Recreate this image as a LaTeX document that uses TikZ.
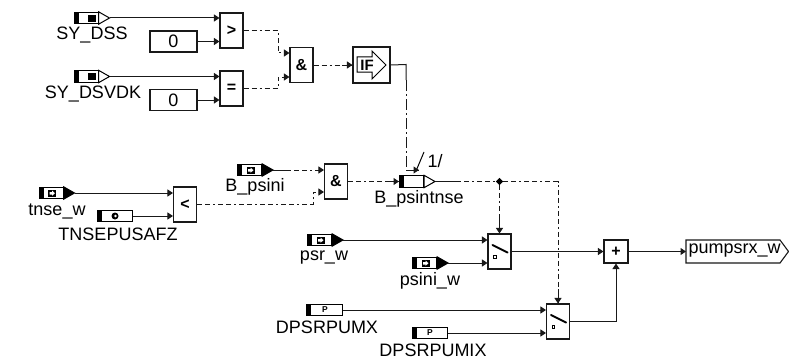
\documentclass[tikz,border=0pt]{standalone}
\usepackage{fontspec}
\setmainfont{Liberation Sans}
\usetikzlibrary{shapes.geometric, arrows.meta, calc}
\tikzset{
	blk/.style    ={rectangle, draw=black!90, line width=1.1pt, minimum width=23pt, minimum height=35pt, inner sep=0pt, font=\fontsize{16}{16}\selectfont\bfseries},
	const/.style  ={rectangle, draw=black!90, line width=1.1pt, minimum width=47pt, minimum height=21pt, inner sep=0pt},
	port/.style   ={rectangle, draw=black, line width=1pt, minimum width=24pt, minimum height=11.5pt, inner sep=0pt},
	param/.style  ={rectangle, draw=black, line width=1pt, minimum width=35.5pt, minimum height=11.5pt, inner sep=0pt},
	lbl/.style    ={inner sep=0pt, text=black},
	sig/.style    ={-{Triangle[length=5.5pt, width=7pt]}, line width=1pt, black!90},
	stub/.style   ={line width=1pt, black!90},
	flag/.style   ={sig, dash pattern=on 5pt off 3pt on 5pt off 3pt on 2pt off 3pt},
	flaglong/.style={sig, dash pattern=on 11pt off 3pt on 2pt off 3pt},
	junct/.style  ={diamond, fill=black, minimum size=7.5pt, inner sep=0pt},
}
% port body with its bar and its tip
\newcommand{\inport}[3]{
	\node[port] (#1) at (#2) {};
	\fill[black] (#1.north west) rectangle ([xshift=5pt]#1.south west);
	\filldraw[draw=black, line width=1pt, fill=#3] (#1.north east) -- ([xshift=11pt]#1.east) coordinate (#1tip) -- (#1.south east) -- cycle;
}
% parameter box with its bar
\newcommand{\parport}[2]{
	\node[param] (#1) at (#2) {};
	\fill[black] (#1.north west) rectangle ([xshift=5pt]#1.south west);
}
% little square with a white arrow
\newcommand{\msgicon}[1]{
	\fill[black] ($(#1.center)+(-3,-3)$) rectangle ($(#1.center)+(5,3.5)$);
	\fill[white] ($(#1.center)+(-1.5,-1)$) -- ($(#1.center)+(1,-1)$) -- ($(#1.center)+(1,-2.5)$) -- ($(#1.center)+(4,0.2)$) -- ($(#1.center)+(1,2.8)$) -- ($(#1.center)+(1,1.5)$) -- ($(#1.center)+(-1.5,1.5)$) -- cycle;
}
\newcommand{\switchicon}[1]{
	\draw[line width=2pt, line cap=round, black] ($(#1.center)+(-7,-6.5)$) -- ($(#1.center)+(8,1)$);
	\draw[line width=1pt, black] ($(#1.center)+(-6,4)$) rectangle ($(#1.center)+(-3.5,6.5)$);
}
\begin{document}
\begin{tikzpicture}[x=1pt, y=-1pt, font=\fontsize{18}{18}\selectfont]
	\useasboundingbox (0,0) rectangle (789,361);
	% upper branch
	\inport{dss}{86,18}{white}
	\fill[black] (88,15) rectangle (96,22);
	\node[lbl] (dsslbl) at (92,35) {SY\_DSS};
	\node[const] (zeroa) at (173.5,41.5) {0};
	\node[blk] (gt) at (231.5,30.5) {>};
	\inport{dsvdk}{86,76.5}{white}
	\fill[black] (88,73) rectangle (96,80);
	\node[lbl] (dsvdklbl) at (93,94) {SY\_DSVDK};
	\node[const] (zerob) at (173.5,100) {0};
	\node[blk] (eq) at (231.5,88.5) {=};
	\node[blk] (anda) at (301.5,65) {\&};
	\node[blk, minimum width=37pt, minimum height=36pt] (ifblk) at (371.5,65) {};
	\draw[line width=1pt, black] (357,57) -- (372,57) -- (372,51) -- (386,65) -- (372,79) -- (372,72) -- (357,72) -- cycle;
	\node[inner sep=0pt, font=\fontsize{15}{15}\selectfont\bfseries] (iftxt) at (367,65) {IF};
	\draw[sig] (dsstip) -- (dsstip -| gt.west);
	\draw[sig] (zeroa.east) -- (zeroa.east -| gt.west);
	\draw[sig] (dsvdktip) -- (dsvdktip -| eq.west);
	\draw[sig] (zerob.east) -- (zerob.east -| eq.west);
	\draw[flag] (gt.east) -- (278,30.5) -- (278,53) -- (278,53 -| anda.west);
	\draw[flag] (eq.east) -- (278,88.5) -- (278,77) -- (278,77 -| anda.west);
	\draw[flag] (anda.east) -- (ifblk.west);
	\draw[stub] ($(ifblk.west)+(-10,0)$) -- (ifblk.west);
	% middle branch
	\inport{tnse}{51,193}{black}
	\msgicon{tnse}
	\node[lbl] (tnselbl) at (57,211) {tnse\_w};
	\parport{tnsepu}{115,216}
	\fill[black] (115,216) circle (3.5);
	\fill[white] (115.5,216) circle (1.4);
	\node[lbl] (tnsepulbl) at (118,234) {TNSEPUSAFZ};
	\node[blk] (lt) at (185,204.5) {<};
	\inport{psini}{249.5,170}{black}
	\msgicon{psini}
	\node[lbl] (psinilbl) at (255,187) {B\_psini};
	\node[blk] (andb) at (336,181.5) {\&};
	\inport{intnse}{411.5,181.5}{white}
	\node[lbl] (intnselbl) at (419,199) {B\_psintnse};
	\node[junct] (split) at (499.5,181.5) {};
	\draw[line width=1pt, black] (416,171) -- (424,152);
	\node[lbl] (onelbl) at (435,161) {1/};
	\draw[sig] (tnsetip) -- (tnsetip -| lt.west);
	\draw[sig] (tnsepu.east) -- (tnsepu.east -| lt.west);
	\draw[flag] (lt.east) -- (313,204.5) -- (313,192) -- (313,192 -| andb.west);
	\draw[flag] (psinitip) -- (psinitip -| andb.west);
	\draw[stub] (psinitip) -- ($(psinitip)+(17,0)$);
	\draw[flag] (andb.east) -- (intnse.west);
	\draw[stub] ($(intnse.west)+(-14,0)$) -- (intnse.west);
	\draw[stub] (ifblk.east) -- (406,64.5) -- (406,80);
	\draw[flaglong] (406,80) -- (406,170) -- (419,170);
	\draw[stub] (406,170) -- (419,170);
	\draw[flag, -] (intnsetip) -- (split);
	\draw[stub] (intnsetip) -- ($(intnsetip)+(21,0)$);
	% lower branch
	\inport{psr}{319.5,240}{black}
	\msgicon{psr}
	\node[lbl] (psrlbl) at (324,258) {psr\_w};
	\inport{psiniw}{424.5,263}{black}
	\msgicon{psiniw}
	\node[lbl] (psiniwlbl) at (430,281) {psini\_w};
	\node[blk] (swa) at (499.5,251.5) {};
	\switchicon{swa}
	\parport{dpmx}{324.5,310}
	\node[inner sep=0pt, font=\fontsize{8.5}{8.5}\selectfont\bfseries] (dpmxp) at (325,310) {P};
	\node[lbl] (dpmxlbl) at (327,327) {DPSRPUMX};
	\parport{dpmix}{430,333}
	\node[inner sep=0pt, font=\fontsize{8.5}{8.5}\selectfont\bfseries] (dpmixp) at (430,333) {P};
	\node[lbl] (dpmixlbl) at (433,350) {DPSRPUMIX};
	\node[blk] (swb) at (558,321.5) {};
	\switchicon{swb}
	\node[blk, minimum height=23pt, minimum width=24pt] (plus) at (616,251.5) {+};
	\draw[line width=1.1pt, black!90] (686,240) -- (780,240) -- (788.5,251.5) -- (780,263) -- (686,263) -- cycle;
	\node[lbl, anchor=west] (pumpsrx) at (688.5,251) {pumpsrx\_w};
	\draw[flag] (split) -- (swa.north);
	\draw[stub] ($(swa.north)+(0,-15)$) -- (swa.north);
	\draw[flag] (split) -| (swb.north);
	\draw[stub] ($(swb.north)+(0,-14)$) -- (swb.north);
	\draw[sig] (psrtip) -- (psrtip -| swa.west);
	\draw[sig] (psiniwtip) -- (psiniwtip -| swa.west);
	\draw[sig] (dpmx.east) -- (dpmx.east -| swb.west);
	\draw[sig] (dpmix.east) -- (dpmix.east -| swb.west);
	\draw[sig] (swa.east) -- (plus.west);
	\draw[sig] (swb.east) -| (plus.south);
	\draw[sig] (plus.east) -- (686,251.5);
\end{tikzpicture}
\end{document}
